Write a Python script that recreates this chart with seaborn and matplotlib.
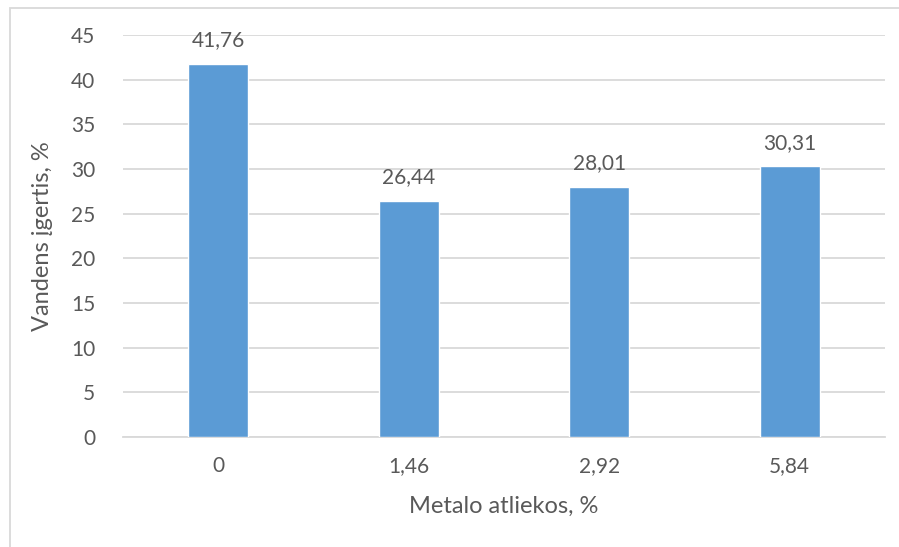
import matplotlib
matplotlib.use("Agg")
import matplotlib.pyplot as plt
import matplotlib.patches as mpatches
import seaborn as sns
import pandas as pd

categories = ["0", "1,46", "2,92", "5,84"]
values = [41.76, 26.44, 28.01, 30.31]
y_ticks = [0, 5, 10, 15, 20, 25, 30, 35, 40, 45]

sns.set_theme(style="white")
plt.rcParams["font.family"] = ["Lato", "DejaVu Sans"]

W, H = 899, 547
fig = plt.figure(figsize=(W / 100, H / 100), dpi=100)
ax = fig.add_axes([123 / W, 1 - 437 / H, (885 - 123) / W, (437 - 35) / H])

df = pd.DataFrame({"cat": categories, "val": values})
sns.barplot(data=df, x="cat", y="val", color="#5B9BD5", width=0.315,
            saturation=1, ax=ax, zorder=3)

text_color = "#595959"
grid_color = "#D9D9D9"

ax.set_ylim(0, 45)
ax.set_xlim(-0.5, 3.5)
ax.set_yticks(y_ticks)
ax.set_yticklabels([str(t) for t in y_ticks])
ax.yaxis.grid(True, color=grid_color, linewidth=1.3, zorder=0)
ax.set_axisbelow(True)
for s in ["top", "right", "left"]:
    ax.spines[s].set_visible(False)
ax.spines["bottom"].set_color(grid_color)
ax.spines["bottom"].set_linewidth(1.3)
ax.tick_params(axis="both", length=0, labelsize=15, colors=text_color)
ax.tick_params(axis="x", pad=14)
ax.tick_params(axis="y", pad=20)

for i, v in enumerate(values):
    ax.text(i, v + 1.5, f"{v:.2f}".replace(".", ","), ha="center", va="bottom",
            fontsize=15, color=text_color)

ax.set_xlabel("Metalo atliekos, %", fontsize=17, color=text_color, labelpad=14)
ax.set_ylabel("Vandens įgertis, %", fontsize=17, color=text_color, labelpad=13)

# outer chart frame
frame = mpatches.Rectangle((9.5 / W, -0.1), 1.2, 1 - 7.5 / H + 0.1,
                           transform=fig.transFigure, fill=False,
                           edgecolor=grid_color, linewidth=1.3, clip_on=False)
fig.patches.append(frame)

fig.savefig("out.png", dpi=100, facecolor="white")
